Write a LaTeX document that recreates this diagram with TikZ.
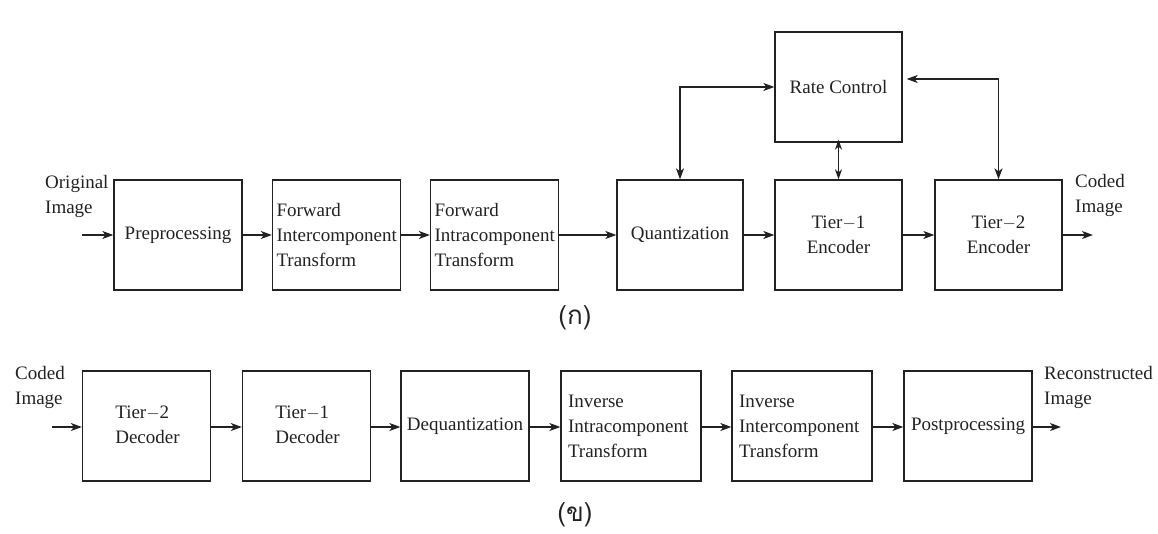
\documentclass[tikz,border=0pt]{standalone}
\usepackage{fontspec}
\setmainfont{Liberation Serif}
\newfontfamily\thaifont[Script=Thai]{Loma}
\usetikzlibrary{arrows.meta}
\definecolor{ink}{HTML}{222222}
\begin{document}
\begin{tikzpicture}[x=1pt,y=-1pt,
  every node/.style={text=ink},
  blk/.style={draw=ink, line width=1.3pt, minimum height=110pt, minimum width=128pt,
    inner sep=0pt, font=\fontsize{19}{25}\selectfont, align=center},
  blkl/.style={blk, align=left, text width=120pt, inner xsep=4pt},
  wblkl/.style={blk, align=left, text width=126pt, inner xsep=7pt},
  lbl/.style={inner sep=0pt, anchor=west, align=left, font=\fontsize{19}{25}\selectfont},
  figcap/.style={inner sep=0pt, font=\thaifont\fontsize{26}{30}\selectfont},
  tip/.style={Stealth[length=11pt,width=8pt,inset=3pt]},
  flow/.style={draw=ink, line width=1.3pt, -{Stealth[length=11pt,width=8pt,inset=3pt]}},
  biflow/.style={draw=ink, line width=1.3pt, {Stealth[length=11pt,width=8pt,inset=3pt]}-{Stealth[length=11pt,width=8pt,inset=3pt]}}
]
\useasboundingbox (0,0) rectangle (1158,534);

% encoder chain
\node[blk] (pre) at (178,235) {Preprocessing};
\node[blkl, minimum width=127pt] (fic) at (336.5,235) {Forward\\Intercomponent\\Transform};
\node[blkl, minimum width=127pt] (fia) at (494.5,235) {Forward\\Intracomponent\\Transform};
\node[blk, minimum width=126pt] (qua) at (680,235) {Quantization};
\node[blk, minimum width=127pt] (t1e) at (838.5,235) {Tier$-$1\\Encoder};
\node[blk, minimum width=127pt] (t2e) at (998.5,235) {Tier$-$2\\Encoder};
\node[blk, minimum width=127pt] (rc) at (838.5,87) {Rate Control};

\node[lbl] (orig) at (45,196) {Original\\Image};
\node[lbl] (coded) at (1075,195) {Coded\\Image};
\coordinate (ein) at (82,235);
\coordinate (eout) at (1093,235);

\draw[flow] (ein) -- (pre);
\draw[flow] (pre) -- (fic);
\draw[flow] (fic) -- (fia);
\draw[flow] (fia) -- (qua);
\draw[flow] (qua) -- (t1e);
\draw[flow] (t1e) -- (t2e);
\draw[flow] (t2e) -- (eout);
\draw[biflow] (qua.north) |- (rc.west);
\draw[biflow] ([xshift=4pt,yshift=8pt]rc.east) -| (t2e.north);
\draw[draw=ink, line width=1.3pt, {Stealth[length=10pt,width=7pt,inset=3pt]}-{Stealth[length=10pt,width=7pt,inset=3pt]}] ([yshift=3pt]rc.south) -- (t1e.north);

\node[figcap] (capa) at (575,318) {(ก)};

% decoder chain
\begin{scope}[every node/.append style={minimum height=108pt}]
\node[blk] (t2d) at (146.5,426) {\hspace*{2pt}\begin{tabular}{@{}l@{}}Tier$-$2\\Decoder\end{tabular}};
\node[blk] (t1d) at (306.5,426) {\hspace*{2pt}\begin{tabular}{@{}l@{}}Tier$-$1\\Decoder\end{tabular}};
\node[blk] (deq) at (465,426) {Dequantization};
\node[wblkl, minimum width=140pt] (iia) at (631,426) {Inverse\\Intracomponent\\Transform};
\node[wblkl, minimum width=140pt] (iie) at (802,426) {Inverse\\Intercomponent\\Transform};
\node[blk] (post) at (968,426) {Postprocessing};
\end{scope}

\node[lbl] (dcoded) at (15,387) {Coded\\Image};
\node[lbl] (recon) at (1044,387) {Reconstructed\\Image};
\coordinate (din) at (52,427);
\coordinate (dout) at (1061,427);

\draw[flow] (din) -- (t2d.west |- din);
\draw[flow] (t2d.east |- din) -- (t1d.west |- din);
\draw[flow] (t1d.east |- din) -- (deq.west |- din);
\draw[flow] (deq.east |- din) -- (iia.west |- din);
\draw[flow] (iia.east |- din) -- (iie.west |- din);
\draw[flow] (iie.east |- din) -- (post.west |- din);
\draw[flow] (post.east |- din) -- (dout);

\node[figcap] (capb) at (575,515) {(ข)};
\end{tikzpicture}
\end{document}
